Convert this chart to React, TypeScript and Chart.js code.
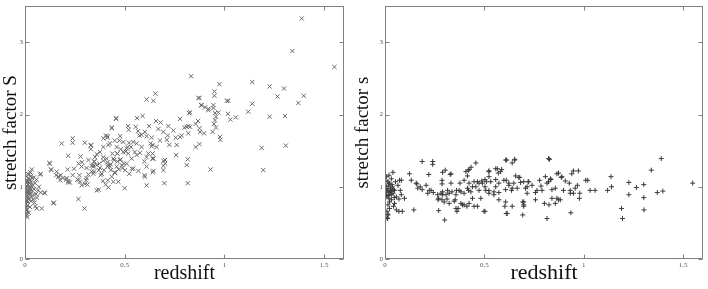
import React, { useEffect, useRef } from "react";
import { Chart, registerables } from "chart.js";

Chart.register(...registerables);

// ---- axis definitions ----
const xTickValues = [0, 0.5, 1, 1.5];
const yTickValues = [0, 1, 2, 3];
const xMin = 0;
const xMax = 1.6;
const yMin = 0;
const yMax = 3.5;
const xAxisTitle = "redshift";
const leftYTitle = "stretch factor S";
const rightYTitle = "stretch factor s";

// ---- left panel: [redshift, stretch factor S] ----
const leftLowZ: [number, number][] = [
  [0.005, 0.6], [0.008, 0.63], [0.004, 0.66], [0.01, 0.68], [0.006, 0.71], [0.012, 0.74], [0.003, 0.77], [0.015, 0.79],
  [0.008, 0.82], [0.02, 0.84], [0.005, 0.86], [0.011, 0.88], [0.017, 0.9], [0.007, 0.92], [0.022, 0.93], [0.013, 0.95],
  [0.004, 0.97], [0.018, 0.98], [0.026, 1.0], [0.009, 1.01], [0.015, 1.03], [0.021, 1.05], [0.006, 1.06], [0.03, 1.07],
  [0.012, 1.09], [0.024, 1.1], [0.017, 1.12], [0.008, 1.14], [0.032, 1.15], [0.02, 1.17], [0.014, 1.18], [0.028, 0.96],
  [0.035, 0.92], [0.04, 1.02], [0.038, 0.88], [0.045, 0.97], [0.05, 1.05], [0.042, 0.82], [0.055, 0.9], [0.048, 0.78],
  [0.06, 0.85], [0.036, 1.12], [0.058, 1.1], [0.065, 0.95], [0.07, 1.0], [0.025, 0.72], [0.03, 0.8], [0.019, 0.64],
  [0.012, 0.58], [0.033, 0.86], [0.027, 1.2], [0.034, 1.24], [0.01, 0.99], [0.016, 0.93], [0.023, 0.9], [0.029, 1.03],
  [0.003, 1.08], [0.009, 0.8], [0.045, 1.13], [0.052, 0.73], [0.075, 1.17], [0.079, 0.92], [0.1, 0.91], [0.059, 0.7],
  [0.084, 0.7], [0.142, 0.77], [0.125, 1.32], [0.132, 1.23], [0.003, 0.62], [0.007, 0.69], [0.002, 0.75], [0.014, 0.85],
  [0.025, 0.98], [0.018, 1.07],
];
const leftMidZ: [number, number][] = [
  [0.184, 1.6], [0.239, 1.67], [0.239, 1.61], [0.217, 1.43], [0.214, 1.24], [0.246, 1.25], [0.269, 1.32], [0.279, 1.42],
  [0.286, 1.34], [0.268, 0.83], [0.298, 0.7], [0.36, 0.95], [0.37, 0.96], [0.33, 1.57], [0.33, 1.52], [0.36, 1.45],
  [0.393, 1.67], [0.413, 1.7], [0.435, 1.81], [0.457, 1.94], [0.418, 1.58], [0.156, 1.16], [0.167, 1.14], [0.179, 1.16],
  [0.189, 1.12], [0.209, 1.12], [0.217, 1.08], [0.225, 1.06], [0.239, 1.16], [0.263, 1.1], [0.276, 1.07], [0.284, 1.02],
  [0.3, 1.04], [0.309, 1.12], [0.318, 1.17], [0.335, 1.21], [0.343, 1.3], [0.346, 1.35], [0.36, 1.3], [0.37, 1.23],
  [0.38, 1.16], [0.39, 1.08], [0.405, 1.03], [0.418, 0.99], [0.393, 1.36], [0.413, 1.34], [0.43, 1.31], [0.446, 1.37],
  [0.463, 1.35], [0.48, 1.38], [0.497, 1.32], [0.489, 1.26], [0.47, 1.24], [0.43, 1.23], [0.45, 1.2], [0.463, 1.46],
  [0.48, 1.52], [0.505, 1.49], [0.514, 1.55], [0.522, 1.61], [0.122, 1.33], [0.13, 1.24], [0.079, 1.18], [0.159, 1.21],
  [0.167, 1.14], [0.176, 1.09], [0.206, 1.1], [0.216, 1.06], [0.268, 1.09], [0.273, 1.16], [0.306, 1.09], [0.313, 1.03],
  [0.343, 1.18], [0.343, 1.28], [0.348, 1.35], [0.376, 1.26], [0.385, 1.18], [0.3, 1.61], [0.331, 1.58], [0.145, 0.78],
  [0.097, 0.92],
];
const leftHighZ: [number, number][] = [
  [0.436, 1.82], [0.517, 1.84], [0.52, 1.79], [0.555, 1.83], [0.567, 1.77], [0.574, 1.71], [0.584, 1.72], [0.602, 1.76],
  [0.622, 1.84], [0.61, 1.7], [0.635, 1.68], [0.657, 1.91], [0.68, 1.89], [0.669, 1.8], [0.694, 1.76], [0.719, 1.84],
  [0.716, 1.71], [0.744, 1.78], [0.756, 1.68], [0.778, 1.94], [0.786, 1.71], [0.799, 1.82], [0.811, 1.83], [0.819, 1.84],
  [0.828, 1.83], [0.823, 2.02], [0.828, 2.03], [0.856, 1.87], [0.868, 1.91], [0.875, 1.81], [0.883, 2.13], [0.875, 2.23],
  [0.903, 2.1], [0.92, 2.06], [0.945, 2.09], [0.953, 2.02], [0.958, 1.97], [0.97, 2.03], [0.953, 1.92], [0.948, 1.87],
  [0.958, 1.82], [0.941, 1.76], [0.978, 1.69], [0.98, 1.65], [0.878, 1.76], [0.898, 1.74], [0.856, 1.55], [0.875, 1.59],
  [0.819, 1.74], [0.778, 1.69], [0.761, 1.58], [0.724, 1.58], [0.711, 1.65], [0.677, 1.64], [0.66, 1.55], [0.694, 1.36],
  [0.694, 1.29], [0.694, 1.23], [0.702, 1.37], [0.64, 1.46], [0.645, 1.39], [0.619, 1.46], [0.61, 1.41], [0.599, 1.35],
  [0.61, 1.28], [0.64, 1.2], [0.599, 1.16], [0.543, 1.25], [0.523, 1.18], [0.502, 1.23], [0.477, 1.37], [0.46, 1.28],
  [0.452, 1.19], [0.435, 1.14], [0.468, 1.07], [0.443, 1.07], [0.415, 1.09], [0.415, 1.28], [0.41, 1.39], [0.438, 1.46],
  [0.46, 1.55], [0.473, 1.64], [0.493, 1.62], [0.51, 1.53], [0.532, 1.55], [0.543, 1.62], [0.56, 1.6], [0.577, 1.47],
  [0.56, 1.44], [0.535, 1.39], [0.518, 1.46], [0.51, 1.32], [0.485, 1.3], [0.55, 1.48], [0.585, 1.55], [0.63, 1.6],
  [0.635, 1.56], [0.64, 1.58], [0.493, 1.48], [0.463, 1.46], [0.443, 1.39], [0.477, 1.7], [0.426, 1.6], [0.45, 1.64],
  [0.393, 1.55], [0.376, 1.48], [0.351, 1.41], [0.393, 1.41], [0.373, 1.32], [0.426, 1.28], [0.396, 1.23], [0.418, 1.3],
  [0.334, 1.29], [0.346, 1.21], [0.309, 1.26], [0.318, 1.37], [0.284, 1.28], [0.458, 1.95], [0.562, 1.95], [0.59, 1.98],
  [0.406, 1.71], [0.413, 1.68], [0.61, 2.21], [0.644, 2.19], [0.654, 2.29], [0.816, 1.05], [0.699, 1.05], [0.61, 1.02],
  [0.5, 0.98], [0.811, 1.3], [0.816, 1.38], [0.758, 1.44], [0.703, 1.32], [0.644, 1.22], [0.602, 1.14], [0.569, 1.22],
  [0.535, 1.25], [0.639, 1.39], [0.833, 2.53], [0.975, 2.42], [0.95, 2.32], [0.95, 2.26], [1.012, 2.19], [1.02, 2.19],
  [0.87, 2.23], [0.886, 2.13], [0.92, 2.08], [0.945, 2.13], [0.931, 1.24],
];
const leftFarZ: [number, number][] = [
  [1.388, 3.33], [1.341, 2.88], [1.552, 2.66], [1.14, 2.45], [1.227, 2.39], [1.299, 2.36], [1.266, 2.25], [1.398, 2.26],
  [1.371, 2.16], [1.14, 2.15], [1.018, 2.01], [1.057, 1.96], [1.03, 1.93], [1.12, 2.04], [1.227, 1.97], [1.304, 1.98],
  [1.187, 1.54], [1.308, 1.57], [1.195, 1.23],
];

// ---- right panel: [redshift, stretch factor s] ----
const rightLowZ: [number, number][] = [
  [0.04, 1.2], [0.02, 1.16], [0.007, 1.14], [0.032, 1.11], [0.015, 1.07], [0.023, 1.04], [0.007, 1.0], [0.037, 1.0],
  [0.048, 0.95], [0.015, 0.95], [0.023, 0.92], [0.04, 0.91], [0.007, 0.89], [0.057, 0.86], [0.02, 0.84], [0.032, 0.82],
  [0.048, 0.77], [0.015, 0.75], [0.023, 0.7], [0.01, 0.66], [0.015, 0.61], [0.01, 0.57], [0.065, 1.02], [0.073, 1.09],
  [0.053, 1.07], [0.077, 0.95], [0.07, 0.83], [0.043, 0.73], [0.057, 0.68], [0.003, 0.98], [0.028, 0.98], [0.018, 1.01],
  [0.033, 0.94], [0.01, 0.86], [0.047, 0.85], [0.023, 0.79], [0.003, 1.09], [0.032, 0.89], [0.013, 0.56], [0.015, 0.62],
  [0.07, 0.66], [0.087, 0.66], [0.098, 0.84], [0.082, 0.89], [0.082, 1.09], [0.012, 0.97], [0.026, 0.93], [0.019, 1.05],
  [0.035, 1.03], [0.005, 0.93], [0.042, 0.96], [0.017, 0.88],
];
const rightMidZ: [number, number][] = [
  [0.187, 1.35], [0.24, 1.35], [0.24, 1.31], [0.303, 1.23], [0.22, 1.17], [0.123, 1.18], [0.132, 1.09], [0.16, 1.04],
  [0.177, 1.0], [0.187, 0.96], [0.145, 0.68], [0.215, 0.91], [0.232, 0.95], [0.27, 0.67], [0.3, 0.54], [0.267, 0.82],
  [0.287, 0.82], [0.29, 0.89], [0.29, 0.93], [0.287, 1.09], [0.287, 1.04], [0.328, 1.17], [0.332, 1.05], [0.315, 0.95],
  [0.323, 0.91], [0.312, 0.83], [0.357, 0.7], [0.368, 0.7], [0.382, 0.77], [0.398, 0.75], [0.353, 0.82], [0.407, 1.21],
  [0.42, 1.23], [0.433, 1.27], [0.457, 1.33], [0.415, 1.15], [0.398, 1.09], [0.377, 1.05], [0.36, 0.95], [0.382, 0.93],
  [0.415, 0.98], [0.432, 0.93], [0.423, 1.05], [0.448, 1.07], [0.457, 1.0], [0.473, 0.95], [0.44, 0.84], [0.423, 0.77],
  [0.448, 0.73], [0.465, 0.73], [0.473, 1.05], [0.487, 1.08], [0.157, 1.05], [0.165, 0.98], [0.207, 1.02], [0.223, 0.95],
  [0.243, 0.92], [0.265, 0.89], [0.282, 0.91], [0.307, 0.89], [0.337, 0.93], [0.357, 0.89], [0.373, 0.95], [0.398, 0.91],
  [0.42, 0.95], [0.44, 1.0], [0.465, 1.07], [0.49, 1.05], [0.27, 0.84], [0.298, 0.79], [0.323, 0.77], [0.348, 0.8],
  [0.39, 0.75], [0.412, 0.73], [0.362, 0.66], [0.29, 1.2], [0.332, 1.18], [0.423, 1.24],
];
const rightHighZ: [number, number][] = [
  [0.503, 1.1], [0.51, 1.07], [0.523, 1.22], [0.503, 1.0], [0.523, 0.95], [0.523, 0.91], [0.482, 0.84], [0.503, 0.66],
  [0.557, 1.25], [0.57, 1.19], [0.587, 1.24], [0.607, 1.37], [0.64, 1.33], [0.652, 1.37], [0.61, 1.09], [0.623, 1.02],
  [0.637, 0.95], [0.648, 1.05], [0.657, 1.15], [0.673, 1.13], [0.682, 1.06], [0.665, 0.98], [0.707, 0.98], [0.72, 1.07],
  [0.74, 1.02], [0.757, 0.92], [0.715, 0.91], [0.693, 0.79], [0.698, 0.73], [0.693, 0.61], [0.603, 0.73], [0.61, 0.63],
  [0.573, 0.92], [0.548, 0.89], [0.557, 1.0], [0.778, 1.09], [0.785, 1.01], [0.823, 1.39], [0.807, 1.14], [0.823, 1.07],
  [0.835, 1.1], [0.802, 0.77], [0.825, 0.75], [0.815, 0.56], [0.84, 0.84], [0.857, 0.98], [0.873, 1.19], [0.887, 1.13],
  [0.907, 1.08], [0.927, 1.05], [0.94, 1.18], [0.948, 1.22], [0.973, 1.22], [0.968, 1.02], [0.957, 0.98], [0.932, 0.91],
  [0.948, 0.91], [0.978, 0.84], [0.935, 0.64], [0.882, 0.82], [0.857, 0.77], [0.898, 0.95], [0.523, 1.21], [0.565, 1.25],
  [0.582, 1.21], [0.523, 1.14], [0.532, 1.07], [0.557, 1.1], [0.573, 1.05], [0.598, 1.09], [0.623, 1.05], [0.64, 0.98],
  [0.678, 1.13], [0.698, 1.07], [0.715, 1.0], [0.765, 0.95], [0.79, 0.95], [0.815, 1.05], [0.832, 1.11], [0.84, 0.96],
  [0.865, 1.18], [0.89, 1.14], [0.932, 0.95], [0.98, 0.91], [0.507, 0.95], [0.548, 0.93], [0.573, 0.82], [0.607, 0.79],
  [0.64, 0.73], [0.698, 0.79], [0.698, 0.75], [0.757, 0.82], [0.865, 0.84], [0.873, 0.82], [0.615, 0.63], [0.498, 0.66],
  [0.723, 1.07], [0.607, 0.96], [0.612, 1.37], [0.653, 1.38], [0.828, 1.38],
];
const rightFarZ: [number, number][] = [
  [1.01, 1.09], [1.02, 1.09], [1.032, 0.95], [1.057, 0.95], [1.12, 0.95], [1.137, 1.14], [1.14, 1.0], [1.19, 0.7],
  [1.195, 0.56], [1.227, 1.06], [1.227, 0.89], [1.265, 0.99], [1.302, 1.03], [1.302, 0.85], [1.303, 0.68], [1.34, 1.23],
  [1.39, 1.39], [1.37, 0.92], [1.398, 0.94], [1.548, 1.05],
];

const leftSeries = [...leftLowZ, ...leftMidZ, ...leftHighZ, ...leftFarZ];
const rightSeries = [...rightLowZ, ...rightMidZ, ...rightHighZ, ...rightFarZ];

const BOX_COLOR = "#808080";
const TICK_LEN = 4;

// Matlab-like box with inward ticks on all four sides
const boxPlugin = {
  id: "matlabBox",
  afterDatasetsDraw(chart: any) {
    const { ctx, chartArea: a, scales } = chart;
    const L = Math.round(a.left) + 0.5;
    const R = Math.round(a.right) - 0.5;
    const T = Math.round(a.top) + 0.5;
    const B = Math.round(a.bottom) - 0.5;
    ctx.save();
    ctx.strokeStyle = BOX_COLOR;
    ctx.lineWidth = 1;
    ctx.strokeRect(L, T, R - L, B - T);
    ctx.beginPath();
    for (const v of xTickValues) {
      const px = Math.round(scales.x.getPixelForValue(v)) + 0.5;
      ctx.moveTo(px, B);
      ctx.lineTo(px, B - TICK_LEN);
      ctx.moveTo(px, T);
      ctx.lineTo(px, T + TICK_LEN);
    }
    for (const v of yTickValues) {
      const py = Math.round(scales.y.getPixelForValue(v)) + 0.5;
      ctx.moveTo(L, py);
      ctx.lineTo(L + TICK_LEN, py);
      ctx.moveTo(R, py);
      ctx.lineTo(R - TICK_LEN, py);
    }
    ctx.stroke();
    ctx.restore();
  },
};

type PanelProps = {
  points: [number, number][];
  yTitle: string;
  pointStyle: string;
  radius: number;
  color: string;
  left: number;
  width: number;
  yAxisWidth: number;
  padRight: number;
  xTitleSize: number;
};

function ScatterPanel(p: PanelProps) {
  const ref = useRef<HTMLCanvasElement | null>(null);
  useEffect(() => {
    if (!ref.current) return;
    const tickFont = { family: "'Liberation Serif', serif", size: 7 };
    const chart = new Chart(ref.current, {
      type: "scatter",
      data: {
        datasets: [
          {
            data: p.points.map(([x, y]) => ({ x, y })),
            pointStyle: p.pointStyle as any,
            pointRadius: p.radius,
            pointBorderColor: p.color,
            pointBackgroundColor: "rgba(0,0,0,0)",
            pointBorderWidth: 1,
            borderColor: p.color,
            backgroundColor: "rgba(0,0,0,0)",
          } as any,
        ],
      },
      options: {
        animation: false,
        responsive: false,
        maintainAspectRatio: false,
        devicePixelRatio: 1,
        events: [],
        layout: { padding: { left: 0, right: p.padRight, top: 4, bottom: 0 } },
        plugins: { legend: { display: false }, tooltip: { enabled: false } },
        scales: {
          x: {
            type: "linear",
            min: xMin,
            max: xMax,
            afterBuildTicks: (s: any) => {
              s.ticks = xTickValues.map((v) => ({ value: v }));
            },
            afterFit: (s: any) => {
              s.height = 30;
            },
            grid: { display: false, drawTicks: false },
            border: { display: false },
            ticks: {
              padding: 2,
              autoSkip: false,
              maxRotation: 0,
              font: tickFont,
              color: "#555",
              callback: (v: any) => String(v),
            },
            title: {
              display: true,
              text: xAxisTitle,
              color: "#111",
              font: { family: "'Liberation Serif', serif", size: p.xTitleSize },
              padding: { top: 0, bottom: 3 },
            },
          },
          y: {
            type: "linear",
            min: yMin,
            max: yMax,
            afterBuildTicks: (s: any) => {
              s.ticks = yTickValues.map((v) => ({ value: v }));
            },
            afterFit: (s: any) => {
              s.width = p.yAxisWidth;
            },
            grid: { display: false, drawTicks: false },
            border: { display: false },
            ticks: {
              padding: 2,
              autoSkip: false,
              font: tickFont,
              color: "#555",
              callback: (v: any) => String(v),
            },
            title: {
              display: true,
              text: p.yTitle,
              color: "#111",
              font: { family: "'Liberation Serif', serif", size: 19 },
              padding: { top: 0, bottom: 0 },
            },
          },
        },
      } as any,
      plugins: [boxPlugin],
    });
    return () => chart.destroy();
  }, []);
  return (
    <canvas
      ref={ref}
      width={p.width}
      height={289}
      style={{ position: "absolute", left: p.left, top: 0, width: p.width, height: 289 }}
    />
  );
}

export default function App() {
  return (
    <div style={{ position: "fixed", left: 0, top: 0, width: 708, height: 289, background: "#fff" }}>
      <ScatterPanel
        points={leftSeries}
        yTitle={leftYTitle}
        pointStyle="crossRot"
        radius={3}
        color="#6a6a6a"
        left={0}
        width={352}
        yAxisWidth={25}
        padRight={8}
        xTitleSize={20}
      />
      <ScatterPanel
        points={rightSeries}
        yTitle={rightYTitle}
        pointStyle="cross"
        radius={2.5}
        color="#3a3a3a"
        left={352}
        width={356}
        yAxisWidth={33}
        padRight={3}
        xTitleSize={22}
      />
    </div>
  );
}
